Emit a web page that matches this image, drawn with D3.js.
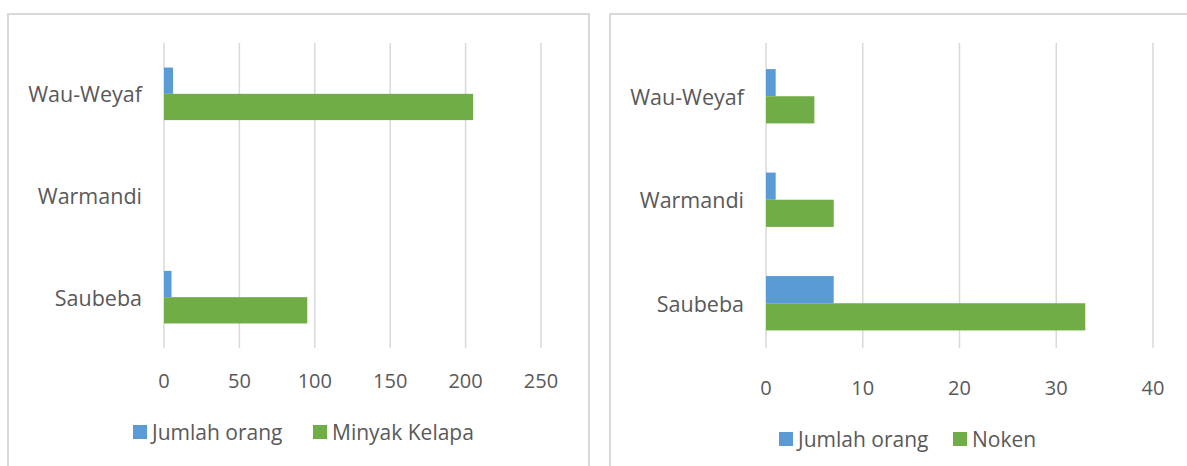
<!DOCTYPE html>
<html>
<head>
<meta charset="utf-8">
<script src="https://cdn.jsdelivr.net/npm/d3@7"></script>
<style>
  html, body { margin: 0; padding: 0; background: #fff; }
  svg { display: block; }
  text { font-family: "Open Sans", sans-serif; fill: #595959; }
</style>
</head>
<body>
<svg id="chart" width="1187" height="466"></svg>
<script>
// ---- data ----
const categories = ["Wau-Weyaf", "Warmandi", "Saubeba"];
const seriesLeft = ["Jumlah orang", "Minyak Kelapa"];
const leftJumlah = [6, 0, 5];
const leftMinyak = [205, 0, 95];
const leftTicks = [0, 50, 100, 150, 200, 250];

const seriesRight = ["Jumlah orang", "Noken"];
const rightJumlah = [1, 1, 7];
const rightNoken = [5, 7, 33];
const rightTicks = [0, 10, 20, 30, 40];

const colors = ["#5B9BD5", "#70AD47"];

const svg = d3.select("#chart");

function panel(cfg) {
  const g = svg.append("g");
  // frame
  g.append("rect")
    .attr("x", cfg.frame[0]).attr("y", cfg.frame[1])
    .attr("width", cfg.frame[2]).attr("height", cfg.frame[3])
    .attr("fill", "none").attr("stroke", "#d9d9d9").attr("stroke-width", 2);

  const x = d3.scaleLinear().domain([0, cfg.ticks[cfg.ticks.length - 1]]).range(cfg.xRange);
  const y = d3.scaleBand().domain(categories).range(cfg.yRange)
    .paddingInner(cfg.pad).paddingOuter(cfg.pad / 2);
  const ys = d3.scaleBand().domain(cfg.series).range([0, y.bandwidth()]);

  // gridlines
  g.selectAll(".grid").data(cfg.ticks).enter().append("line")
    .attr("x1", d => x(d)).attr("x2", d => x(d))
    .attr("y1", cfg.grid[0]).attr("y2", cfg.grid[1])
    .attr("stroke", "#d9d9d9").attr("stroke-width", 1.5);

  // tick labels
  g.selectAll(".tick").data(cfg.ticks).enter().append("text")
    .attr("x", d => x(d)).attr("y", cfg.tickY)
    .attr("text-anchor", "middle").attr("dominant-baseline", "central")
    .style("font-size", "20px")
    .text(d => d);

  // category labels
  g.selectAll(".cat").data(categories).enter().append("text")
    .attr("x", cfg.catX).attr("y", d => y(d) + y.bandwidth() / 2)
    .attr("text-anchor", "end").attr("dominant-baseline", "central")
    .style("font-size", "21.5px")
    .text(d => d);

  // bars
  cfg.series.forEach((s, si) => {
    const vals = cfg.values[si];
    g.selectAll(".bar" + si).data(categories).enter().append("rect")
      .attr("x", x(0))
      .attr("y", (d) => y(d) + ys(s))
      .attr("width", (d, i) => x(vals[i]) - x(0))
      .attr("height", ys.bandwidth())
      .attr("fill", colors[si]);
  });

  // legend
  cfg.legend.forEach((lx, si) => {
    g.append("rect").attr("x", lx).attr("y", cfg.legendY - 7)
      .attr("width", 14).attr("height", 14).attr("fill", colors[si]);
    g.append("text").attr("x", lx + 19).attr("y", cfg.legendY)
      .attr("dominant-baseline", "central")
      .style("font-size", "21px")
      .text(cfg.series[si]);
  });
}

panel({
  frame: [8, 14, 581, 470],
  ticks: leftTicks,
  xRange: [164, 541],
  yRange: [43, 348],
  grid: [43, 348],
  pad: 0.483,
  series: seriesLeft,
  values: [leftJumlah, leftMinyak],
  tickY: 380,
  catX: 142,
  legendY: 432,
  legend: [133, 313]
});

panel({
  frame: [610, 14, 600, 470],
  ticks: rightTicks,
  xRange: [766, 1153],
  yRange: [44.5, 355],
  grid: [43, 348],
  pad: 0.475,
  series: seriesRight,
  values: [rightJumlah, rightNoken],
  tickY: 387,
  catX: 744,
  legendY: 439,
  legend: [779, 953]
});
</script>
</body>
</html>
